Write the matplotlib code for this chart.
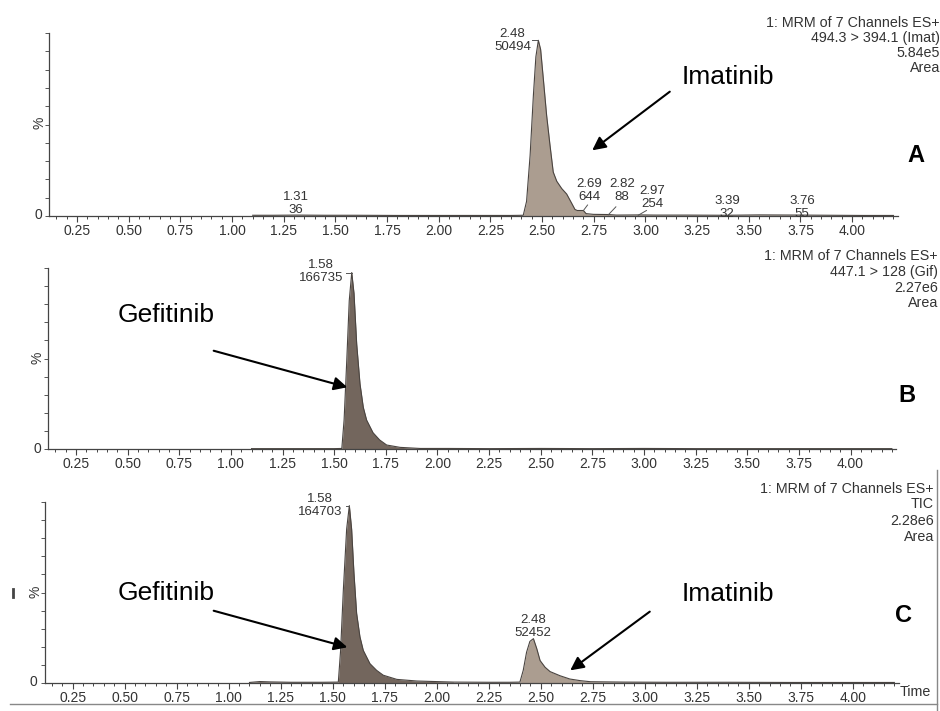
import matplotlib
matplotlib.use("Agg")
import matplotlib.pyplot as plt
from matplotlib.lines import Line2D
from matplotlib.ticker import FixedLocator, NullFormatter

plt.rcParams['font.family'] = ['Liberation Sans', 'DejaVu Sans']

W, H = 940, 711

# ---------------- data ----------------
tick_times = [0.25, 0.50, 0.75, 1.00, 1.25, 1.50, 1.75, 2.00, 2.25, 2.50,
              2.75, 3.00, 3.25, 3.50, 3.75, 4.00]
tick_labels = ["0.25", "0.50", "0.75", "1.00", "1.25", "1.50", "1.75", "2.00",
               "2.25", "2.50", "2.75", "3.00", "3.25", "3.50", "3.75", "4.00"]

# Panel A: MRM 494.3 > 394.1 (Imatinib)
a_time = [1.10, 1.20, 1.31, 1.45, 1.60, 1.80, 2.00, 2.20, 2.35, 2.409, 2.425,
          2.442, 2.458, 2.470, 2.482, 2.493, 2.506, 2.522, 2.538, 2.554, 2.571,
          2.595, 2.619, 2.643, 2.659, 2.670, 2.700, 2.713, 2.748, 2.820, 2.860,
          2.970, 3.050, 3.200, 3.390, 3.550, 3.760, 3.900, 4.050, 4.200]
a_int = [0.4, 0.4, 0.5, 0.4, 0.4, 0.3, 0.3, 0.3, 0.3, 0.4, 8,
         33, 66, 87, 96, 91, 75, 55, 39, 24, 19,
         15, 12, 7, 3.6, 3, 3, 1.3, 0.9, 0.8, 0.5,
         0.6, 0.5, 0.5, 0.4, 0.6, 0.5, 0.4, 0.3, 0.3]
a_peaks = [(2.48, "50494"), (1.31, "36"), (2.69, "644"), (2.82, "88"),
           (2.97, "254"), (3.39, "32"), (3.76, "55")]

# Panel B: MRM 447.1 > 128 (Gefitinib)
b_time = [1.10, 1.30, 1.50, 1.537, 1.548, 1.561, 1.573, 1.585, 1.596, 1.609,
          1.625, 1.641, 1.657, 1.688, 1.720, 1.754, 1.819, 1.916, 2.05, 2.25,
          2.50, 2.75, 3.00, 3.25, 3.50, 3.75, 4.00, 4.20]
b_int = [0.2, 0.2, 0.2, 0.3, 16, 49, 82, 97.5, 86, 58,
         36, 23, 16, 9, 5, 2.2, 0.9, 0.3, 0.3, 0.2,
         0.3, 0.2, 0.3, 0.2, 0.2, 0.2, 0.2, 0.2]
b_peaks = [(1.58, "166735")]

# Panel C: TIC
c_time = [1.10, 1.15, 1.20, 1.30, 1.45, 1.527, 1.538, 1.551, 1.567, 1.580,
          1.591, 1.602, 1.615, 1.631, 1.647, 1.679, 1.711, 1.743, 1.808, 1.904,
          2.08, 2.25, 2.35, 2.40, 2.416, 2.432, 2.448, 2.465, 2.481, 2.497,
          2.521, 2.545, 2.593, 2.64, 2.69, 2.74, 2.90, 3.10, 3.40, 3.70,
          4.00, 4.20]
c_int = [0.3, 0.8, 0.6, 0.4, 0.4, 0.5, 18, 51, 85, 98,
         85, 61, 38.5, 25.5, 18, 10.7, 7, 4.3, 2, 1.1,
         0.5, 0.4, 0.4, 0.5, 7, 17, 23, 24.5, 19, 12.4,
         8.7, 6.3, 4, 2.2, 1.3, 0.7, 0.5, 0.4, 0.4, 0.3,
         0.3, 0.3]
c_peaks = [(1.58, "164703"), (2.48, "52452")]

headers = {
    "A": ["1: MRM of 7 Channels ES+", "494.3 > 394.1 (Imat)", "5.84e5", "Area"],
    "B": ["1: MRM of 7 Channels ES+", "447.1 > 128 (Gif)", "2.27e6", "Area"],
    "C": ["1: MRM of 7 Channels ES+", "TIC", "2.28e6", "Area"],
}

IMA_COLOR = "#ab9d90"
GEF_COLOR = "#73665d"
EDGE = "#4a4440"
TXT = "#333333"
XMIN, XMAX = 0.115, 4.22

fig = plt.figure(figsize=(W / 100, H / 100), dpi=100)
fig.patch.set_facecolor("white")


def px_axes(left, right, top, bottom):
    return fig.add_axes([left / W, 1 - bottom / H, (right - left) / W, (bottom - top) / H])


def style(ax):
    ax.set_xlim(XMIN, XMAX)
    ax.set_ylim(0, 100)
    for s in ("top", "right"):
        ax.spines[s].set_visible(False)
    for s in ("left", "bottom"):
        ax.spines[s].set_color("#444444")
        ax.spines[s].set_linewidth(0.9)
    ax.xaxis.set_major_locator(FixedLocator(tick_times))
    ax.set_xticklabels(tick_labels)
    minors = [round(0.15 + 0.05 * i, 2) for i in range(82)]
    ax.xaxis.set_minor_locator(FixedLocator([m for m in minors if m <= 4.2]))
    ax.set_yticks([10 * i for i in range(11)])
    ax.yaxis.set_major_formatter(NullFormatter())
    ax.tick_params(axis="x", which="major", direction="out", length=4, width=0.8,
                   pad=2, labelsize=10, colors="#444444", labelcolor=TXT)
    ax.tick_params(axis="x", which="minor", direction="out", length=2.5, width=0.7,
                   colors="#444444")
    ax.tick_params(axis="y", which="major", direction="out", length=3, width=0.7,
                   colors="#555555")
    ax.patch.set_alpha(0)


def draw_trace(ax, t, y, color, where=None):
    ax.fill_between(t, 0, y, color=color, linewidth=0, where=where, interpolate=True)
    ax.plot(t, y, color=EDGE, lw=0.8)


def peak_label(ax, t, ypos, text):
    ax.text(t, ypos, text, ha="center", va="center", fontsize=9.5, color=TXT,
            linespacing=1.12, clip_on=False)


def fig_text(x, y, s, **kw):
    fig.text(x / W, 1 - y / H, s, **kw)


def arrow(x0, y0, x1, y1):
    fig.add_artist(matplotlib.patches.FancyArrowPatch(
        (x0 / W, 1 - y0 / H), (x1 / W, 1 - y1 / H), transform=fig.transFigure,
        arrowstyle="-|>", mutation_scale=20, lw=1.5, color="black"))


# ---------------- Panel A ----------------
axA = px_axes(49.1, 897.6, 33, 216)
style(axA)
draw_trace(axA, a_time, a_int, IMA_COLOR)
peak_label(axA, 2.357, 96, "2.48\n" + a_peaks[0][1])
axA.plot([2.452, 2.482], [96, 96], color="#555555", lw=0.7)
peak_label(axA, 1.31, 6.6, "1.31\n" + a_peaks[1][1])
peak_label(axA, 2.73, 14, "2.69\n" + a_peaks[2][1])
axA.plot([2.70, 2.72], [3, 6], color="#555555", lw=0.7)
peak_label(axA, 2.887, 14, "2.82\n" + a_peaks[3][1])
axA.plot([2.82, 2.857], [0.6, 5], color="#555555", lw=0.7)
peak_label(axA, 3.032, 10, "2.97\n" + a_peaks[4][1])
axA.plot([2.965, 3.005], [0.4, 3], color="#555555", lw=0.7)
peak_label(axA, 3.395, 4.6, "3.39\n" + a_peaks[5][1])
peak_label(axA, 3.757, 4.6, "3.76\n" + a_peaks[6][1])

# ---------------- Panel B ----------------
axB = px_axes(48.1, 896, 268, 449)
style(axB)
draw_trace(axB, b_time, b_int, GEF_COLOR)
peak_label(axB, 1.437, 98, "1.58\n" + b_peaks[0][1])
axB.plot([1.558, 1.585], [97.5, 97.5], color="#555555", lw=0.7)

# ---------------- Panel C ----------------
axC = px_axes(44.6, 898.5, 502, 683)
style(axC)
gef_mask = [t < 2.2 for t in c_time]
ima_mask = [t >= 2.2 for t in c_time]
axC.fill_between(c_time, 0, c_int, where=gef_mask, color=GEF_COLOR, lw=0)
axC.fill_between(c_time, 0, c_int, where=ima_mask, color=IMA_COLOR, lw=0)
axC.plot(c_time, c_int, color=EDGE, lw=0.8)
peak_label(axC, 1.438, 98, "1.58\n" + c_peaks[0][1])
axC.plot([1.562, 1.58], [98, 98], color="#555555", lw=0.7)
peak_label(axC, 2.463, 31, "2.48\n" + c_peaks[1][1])

# ---------------- axis side texts ----------------
for (zx, zy, px, py) in [(38, 215, 39, 123), (37, 449, 37, 358), (33, 682, 35, 592)]:
    fig_text(zx, zy, "0", ha="center", va="center", fontsize=10, color=TXT)
    fig_text(px, py, "%", ha="center", va="center", fontsize=10, color=TXT, rotation=90)

# headers
for key, xr, ys in [("A", 940, [23, 38, 53, 68]),
                    ("B", 938, [256, 272, 288, 303]),
                    ("C", 934, [489, 504, 521, 537])]:
    for line, y in zip(headers[key], ys):
        fig_text(xr, y, line, ha="right", va="center", fontsize=10.3, color=TXT)

# compound labels and arrows
fig_text(728, 77, "Imatinib", ha="center", va="center", fontsize=19, color="black")
arrow(672, 90, 590, 152)
fig_text(166, 315, "Gefitinib", ha="center", va="center", fontsize=19, color="black")
arrow(211, 350, 350, 388)
fig_text(166, 593, "Gefitinib", ha="center", va="center", fontsize=19, color="black")
arrow(211, 610, 350, 648)
fig_text(728, 594, "Imatinib", ha="center", va="center", fontsize=19, color="black")
arrow(652, 610, 568, 672)

# panel letters
fig_text(916, 155, "A", ha="center", va="center", fontsize=17, fontweight="bold")
fig_text(907, 395, "B", ha="center", va="center", fontsize=17, fontweight="bold")
fig_text(903, 615, "C", ha="center", va="center", fontsize=17, fontweight="bold")

fig_text(915, 692, "Time", ha="center", va="center", fontsize=10.3, color=TXT)

# scan border remnants
fig.add_artist(Line2D([10 / W, 937 / W], [1 - 704 / H, 1 - 704 / H],
                      transform=fig.transFigure, color="#888888", lw=1))
fig.add_artist(Line2D([937 / W, 937 / W], [1 - 470 / H, 0],
                      transform=fig.transFigure, color="#888888", lw=1))
fig.add_artist(Line2D([13 / W, 13 / W], [1 - 589 / H, 1 - 597 / H],
                      transform=fig.transFigure, color="#444444", lw=2))

fig.savefig("out.png", dpi=100, facecolor="white")
